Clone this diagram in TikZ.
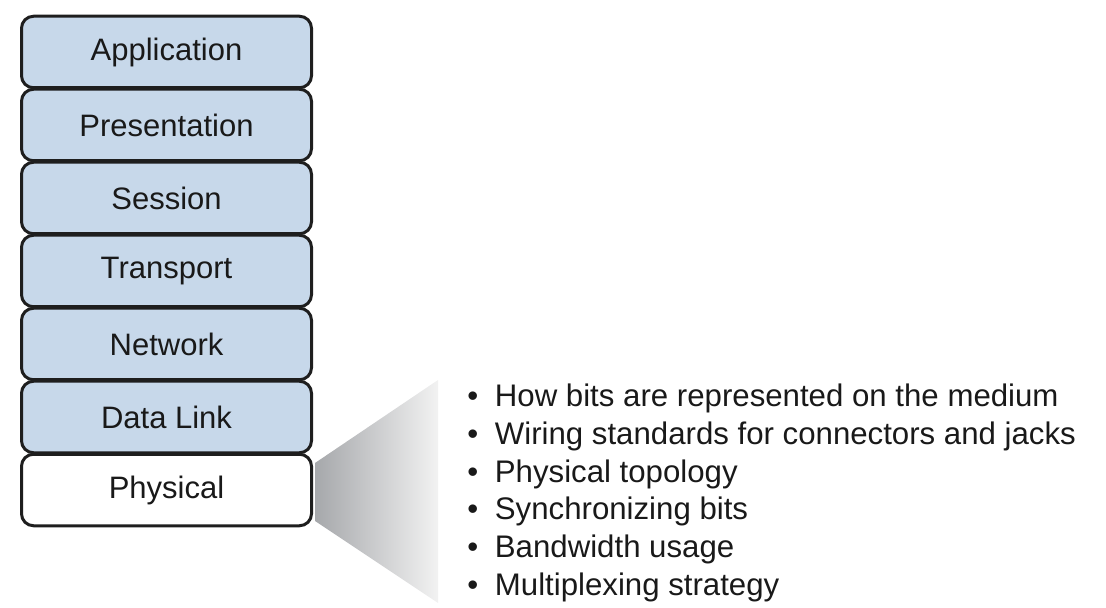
\documentclass[tikz,border=0pt]{standalone}
\usepackage{fontspec}
\setmainfont{Liberation Sans}
\usepackage{tikz}
\usetikzlibrary{positioning, calc}
\definecolor{osiblue}{RGB}{199,216,234}
\definecolor{osiline}{RGB}{30,30,30}
\definecolor{ositext}{RGB}{25,25,25}
\definecolor{wedgedark}{RGB}{166,168,171}
\definecolor{wedgelight}{RGB}{242,242,242}
\tikzset{
  %% ---- layer boxes ----
  layer/.style   = {rectangle, rounded corners=6pt,
                    draw=osiline, line width=1.5pt,
                    fill=#1, minimum width=145pt, minimum height=35.75pt,
                    align=center, text=ositext,
                    font=\fontsize{15.5}{18}\selectfont},
  layer/.default = osiblue,
  %% ---- list lines ----
  item/.style    = {inner sep=0pt, outer sep=0pt,
                    text height=11.5pt, text depth=3.5pt, text=ositext,
                    font=\fontsize{15.6}{18}\selectfont},
}
\newcommand{\itembul}{\textbullet\hspace{8.3pt}}

\begin{document}
\begin{tikzpicture}[node distance = -0.75pt]
\useasboundingbox (0,0) rectangle (553pt,-304pt);
\node[layer]                       (app)  at (83.25pt,-26pt) {Application};
\node[layer,       below=of app]   (pres) {Presentation};
\node[layer,       below=of pres]  (sess) {Session};
\node[layer,       below=of sess]  (trans) {Transport};
\node[layer,       below=of trans] (net)  {Network};
\node[layer,       below=of net]   (dl)   {Data Link};
\node[layer=white, below=of dl]    (phys) {Physical};
% zoom wedge
\shade[left color=wedgedark, right color=wedgelight]
  ($(phys.east)+(1pt,13.5pt)$) -- (219pt,-190pt) -- (219pt,-301.5pt)
  -- ($(phys.east)+(1pt,-15.5pt)$) -- cycle;
% what the physical layer covers
\node[item, anchor=base west] (i1) at (233.7pt,-203.5pt)
  {\itembul How bits are represented on the medium};
\node[item, below=3.8pt of i1.south west, anchor=north west] (i2)
  {\itembul Wiring standards for connectors and jacks};
\node[item, below=3.8pt of i2.south west, anchor=north west] (i3)
  {\itembul Physical topology};
\node[item, below=3.8pt of i3.south west, anchor=north west] (i4)
  {\itembul Synchronizing bits};
\node[item, below=3.8pt of i4.south west, anchor=north west] (i5)
  {\itembul Bandwidth usage};
\node[item, below=3.8pt of i5.south west, anchor=north west] (i6)
  {\itembul Multiplexing strategy};
\end{tikzpicture}
\end{document}
